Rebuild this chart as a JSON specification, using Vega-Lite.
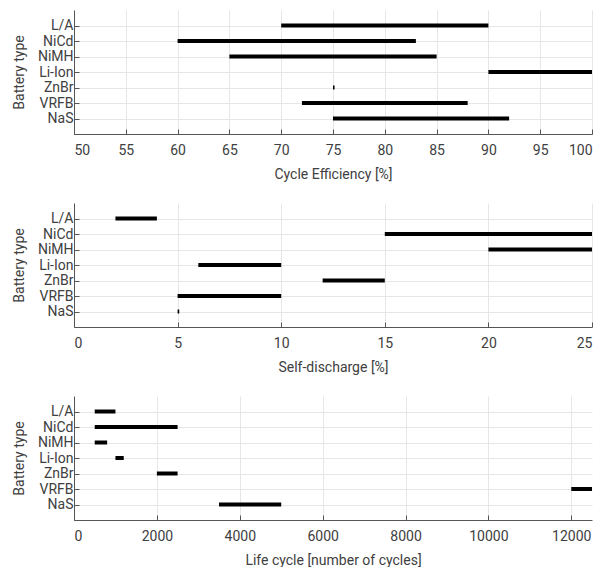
{
  "$schema": "https://vega.github.io/schema/vega-lite/v6.json",
  "padding": {"left": 12, "top": 10, "right": 0, "bottom": 0},
  "background": "white",
  "spacing": 22,
  "datasets": {
    "batt": [
      {"metric": "eff", "type": "L/A", "start": 70, "end": 90},
      {"metric": "eff", "type": "NiCd", "start": 60, "end": 83},
      {"metric": "eff", "type": "NiMH", "start": 65, "end": 85},
      {"metric": "eff", "type": "Li-Ion", "start": 90, "end": 100},
      {"metric": "eff", "type": "ZnBr", "start": 75, "end": 75.15},
      {"metric": "eff", "type": "VRFB", "start": 72, "end": 88},
      {"metric": "eff", "type": "NaS", "start": 75, "end": 92},
      {"metric": "sd", "type": "L/A", "start": 2, "end": 4},
      {"metric": "sd", "type": "NiCd", "start": 15, "end": 25},
      {"metric": "sd", "type": "NiMH", "start": 20, "end": 25},
      {"metric": "sd", "type": "Li-Ion", "start": 6, "end": 10},
      {"metric": "sd", "type": "ZnBr", "start": 12, "end": 15},
      {"metric": "sd", "type": "VRFB", "start": 5, "end": 10},
      {"metric": "sd", "type": "NaS", "start": 5, "end": 5.08},
      {"metric": "life", "type": "L/A", "start": 500, "end": 1000},
      {"metric": "life", "type": "NiCd", "start": 500, "end": 2500},
      {"metric": "life", "type": "NiMH", "start": 500, "end": 800},
      {"metric": "life", "type": "Li-Ion", "start": 1000, "end": 1200},
      {"metric": "life", "type": "ZnBr", "start": 2000, "end": 2500},
      {"metric": "life", "type": "VRFB", "start": 12000, "end": 12500},
      {"metric": "life", "type": "NaS", "start": 3500, "end": 5000}
    ]
  },
  "config": {
    "view": {"stroke": null},
    "font": "Roboto",
    "axis": {
      "domainColor": "#555555",
      "tickColor": "#555555",
      "gridColor": "#e6e6e6",
      "labelColor": "#404040",
      "titleColor": "#404040",
      "labelFont": "Roboto",
      "titleFont": "Roboto",
      "labelFontSize": 14,
      "titleFontSize": 14,
      "titleFontWeight": "normal",
      "tickSize": -5
    },
    "axisX": {"labelPadding": 14, "titlePadding": 10},
    "axisY": {"labelPadding": 6, "titlePadding": 11, "grid": true}
  },
  "vconcat": [
    {
      "width": 518,
      "height": 124,
      "data": {"name": "batt"},
      "transform": [{"filter": "datum.metric === 'eff'"}],
      "mark": {"type": "rule", "strokeWidth": 4, "color": "black"},
      "encoding": {
        "x": {"field": "start", "type": "quantitative", "title": "Cycle Efficiency [%]",
              "scale": {"domain": [50, 100], "nice": false},
              "axis": {"values": [50,55,60,65,70,75,80,85,90,95,100]}},
        "x2": {"field": "end"},
        "y": {"field": "type", "type": "ordinal", "title": "Battery type",
              "sort": ["L/A","NiCd","NiMH","Li-Ion","ZnBr","VRFB","NaS"],
              "scale": {"type": "point", "padding": 1}}
      }
    },
    {
      "width": 518,
      "height": 124,
      "data": {"name": "batt"},
      "transform": [{"filter": "datum.metric === 'sd'"}],
      "mark": {"type": "rule", "strokeWidth": 4, "color": "black"},
      "encoding": {
        "x": {"field": "start", "type": "quantitative", "title": "Self-discharge [%]",
              "scale": {"domain": [0, 25], "nice": false},
              "axis": {"values": [0,5,10,15,20,25]}},
        "x2": {"field": "end"},
        "y": {"field": "type", "type": "ordinal", "title": "Battery type",
              "sort": ["L/A","NiCd","NiMH","Li-Ion","ZnBr","VRFB","NaS"],
              "scale": {"type": "point", "padding": 1}}
      }
    },
    {
      "width": 518,
      "height": 124,
      "data": {"name": "batt"},
      "transform": [{"filter": "datum.metric === 'life'"}],
      "mark": {"type": "rule", "strokeWidth": 4, "color": "black"},
      "encoding": {
        "x": {"field": "start", "type": "quantitative", "title": "Life cycle [number of cycles]",
              "scale": {"domain": [0, 12500], "nice": false},
              "axis": {"values": [0,2000,4000,6000,8000,10000,12000], "format": "d"}},
        "x2": {"field": "end"},
        "y": {"field": "type", "type": "ordinal", "title": "Battery type",
              "sort": ["L/A","NiCd","NiMH","Li-Ion","ZnBr","VRFB","NaS"],
              "scale": {"type": "point", "padding": 1}}
      }
    }
  ]
}
